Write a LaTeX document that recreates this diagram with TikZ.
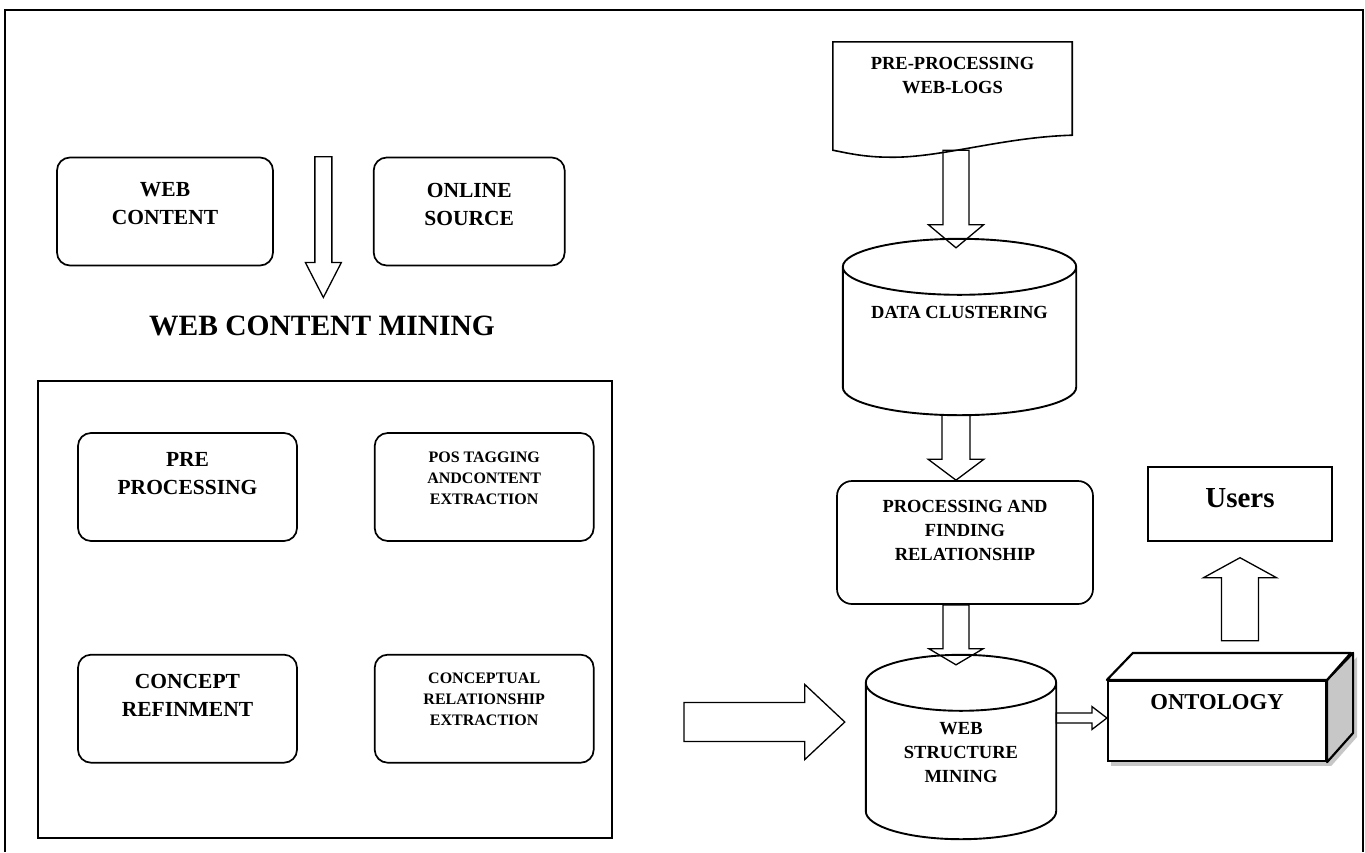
\documentclass[tikz,border=0pt]{standalone}
\usepackage{fontspec}
\setmainfont{Liberation Serif}
\usetikzlibrary{positioning,calc,backgrounds}

% outlined block arrow: start, tip, shaft half width, head half width, head length
\newcommand{\blockarrow}[5]{%
  \coordinate (ba-h) at ($(#2)!#5!(#1)$);
  \draw[barrow] ($(#1)!#3!90:(#2)$) -- ($(ba-h)!#3!90:(#2)$) -- ($(ba-h)!#4!90:(#2)$)
    -- (#2) -- ($(ba-h)!#4!-90:(#2)$) -- ($(ba-h)!#3!-90:(#2)$) -- ($(#1)!#3!-90:(#2)$) -- cycle;
}
% cylinder round a node: options, node, ellipse y radius
\newcommand{\drawcyl}[3][]{%
  \draw[cylline,#1] let \p1=(#2.north west), \p2=(#2.south east), \n1={(\x2-\x1)/2} in
    (\x1,\y1-#3) -- (\x1,\y2+#3) arc[start angle=180, end angle=360, x radius=\n1, y radius=#3pt]
    -- (\x2,\y1-#3) arc[start angle=0, end angle=180, x radius=\n1, y radius=#3pt] -- cycle
    (\x1,\y1-#3) arc[start angle=180, end angle=360, x radius=\n1, y radius=#3pt];
}

\begin{document}
\begin{tikzpicture}[x=1pt, y=1pt,
    rbox/.style={draw, line width=1.7pt, rounded corners=13pt, minimum height=108pt},
    txtbig/.style={font=\fontsize{21.5}{28}\selectfont\bfseries, align=center},
    txtmid/.style={font=\fontsize{18.5}{24}\selectfont\bfseries, align=center},
    txtsmall/.style={font=\fontsize{16}{21}\selectfont\bfseries, align=center},
    barrow/.style={line width=1.3pt, line join=miter},
    cylline/.style={line width=1.9pt, fill=white},
    dropsh/.style={fill=black!22, draw=none}
]
\useasboundingbox (0,0) rectangle (1365,-852);

% Frame
\draw[line width=2.2pt] (5,-852) -- (5,-10) -- (1363,-10) -- (1363,-852);

% Web content mining
\node[rbox, minimum width=216pt, label={[txtbig, yshift=7.5pt]center:{WEB\\CONTENT}}] (webc) at (165,-211.5) {};
\node[rbox, minimum width=191pt, right=99pt of webc, label={[txtbig, yshift=7.5pt]center:{ONLINE\\SOURCE}}] (onl) {};
\node[font=\fontsize{29.5}{34}\selectfont\bfseries] (wcm) at (322,-326) {WEB CONTENT MINING};

\node[draw, line width=1.8pt, minimum width=574pt, minimum height=457pt] (lbox) at (325,-609.5) {};
\node[rbox, minimum width=219pt, label={[txtbig, yshift=13pt]center:{PRE\\PROCESSING}}] (pre) at (187.5,-487) {};
\node[rbox, minimum width=219pt, right=76pt of pre, label={[txtsmall, yshift=9pt]center:{POS TAGGING\\ANDCONTENT\\EXTRACTION}}] (pos) {};
\node[rbox, minimum width=219pt, below=112pt of pre, label={[txtbig, yshift=13pt]center:{CONCEPT\\REFINMENT}}] (con) {};
\node[rbox, minimum width=219pt, below=112pt of pos, label={[txtsmall, yshift=9.5pt]center:{CONCEPTUAL\\RELATIONSHIP\\EXTRACTION}}] (rel) {};

% Web structure mining
\node[minimum width=239pt, minimum height=108pt, label={[txtmid, yshift=20pt]center:{PRE-PROCESSING\\WEB-LOGS}}] (doc) at (952.5,-96) {};
\draw[line width=1.6pt] (doc.south west) -- (doc.north west) -- (doc.north east) -- ([yshift=15pt]doc.south east)
  .. controls +(-70,-2) and +(50,-1) .. ([xshift=57pt,yshift=-7pt]doc.south west)
  .. controls +(-25,0) and +(15,-3) .. (doc.south west) -- cycle;

\node[minimum width=233pt, minimum height=176pt] (clus) at (959.5,-327) {};
\drawcyl{clus}{28}
\node[txtmid] at ([yshift=15pt]clus.center) {DATA CLUSTERING};

\node[rbox, rounded corners=15pt, minimum width=256pt, minimum height=123pt, label={[txtmid, yshift=12.5pt]center:{PROCESSING AND\\FINDING\\RELATIONSHIP}}] (proc) at (965,-542.5) {};

\node[minimum width=190pt, minimum height=184pt] (wsm) at (961,-747) {};
\drawcyl{wsm}{28}
\node[txtmid] at ([yshift=-5.5pt]wsm.center) {WEB\\STRUCTURE\\MINING};

% Ontology and users
\node[draw, fill=white, line width=2.2pt, minimum width=218pt, minimum height=80pt, label={[font=\fontsize{22.7}{27}\selectfont\bfseries, yshift=19pt]center:ONTOLOGY}] (ont) at (1217,-721) {};
\draw[line width=2.2pt, line join=round, fill=black!22] (ont.north east) -- ++(26,27) -- ++(0,-80) -- (ont.south east) -- cycle;
\draw[line width=2.2pt, line join=round, fill=white] (ont.north west) -- ++(26,27) -- ++(218,0) -- (ont.north east) -- cycle;

\node[draw, line width=1.4pt, minimum width=184pt, minimum height=74pt, label={[font=\fontsize{29}{34}\selectfont\bfseries, yshift=6pt]center:Users}] (users) at (1240,-504) {};

% Shadows
\begin{scope}[on background layer]
\drawcyl[dropsh, xshift=3pt, yshift=-4pt]{wsm}{28}
\fill[dropsh] ([shift={(4,-4)}]ont.north west) rectangle ([shift={(4,-4)}]ont.south east);
\fill[dropsh] ([shift={(4,-4)}]ont.north east) -- ++(26,27) -- ++(0,-80) -- ([shift={(4,-4)}]ont.south east) -- cycle;
\end{scope}

% Connections
\coordinate (axis) at (956,0);
\coordinate (a1s) at ($(webc.north east)!.5!(onl.north west)$);
\coordinate (a1e) at ($(a1s |- wcm.north)+(0,15)$);
\coordinate (a2s) at (axis |- doc.south);
\coordinate (a2e) at ($(axis |- clus.north)+(0,-9)$);
\coordinate (a3s) at (axis |- clus.south);
\coordinate (a3e) at (axis |- proc.north);
\coordinate (a4s) at (axis |- proc.south);
\coordinate (a4e) at ($(axis |- wsm.north)+(0,-10)$);
\coordinate (a5s) at ($(lbox.east)+(71,-112.5)$);
\coordinate (a5e) at ($(wsm.west |- a5s)+(-21,0)$);
\coordinate (a6s) at ([yshift=29pt]wsm.east);
\coordinate (a6e) at (ont.west |- a6s);
\coordinate (a7s) at ([yshift=-99pt]users.south);
\coordinate (a7e) at ([yshift=-16pt]users.south);

\blockarrow{a1s}{a1e}{8.5pt}{18pt}{35pt}
\blockarrow{a2s}{a2e}{13pt}{27.5pt}{23pt}
\blockarrow{a3s}{a3e}{14pt}{28pt}{21pt}
\blockarrow{a4s}{a4e}{13pt}{27pt}{16pt}
\blockarrow{a5s}{a5e}{19.5pt}{37.5pt}{40pt}
\blockarrow{a6s}{a6e}{5pt}{11.5pt}{15pt}
\blockarrow{a7s}{a7e}{18.5pt}{36.5pt}{20pt}

\end{tikzpicture}
\end{document}
